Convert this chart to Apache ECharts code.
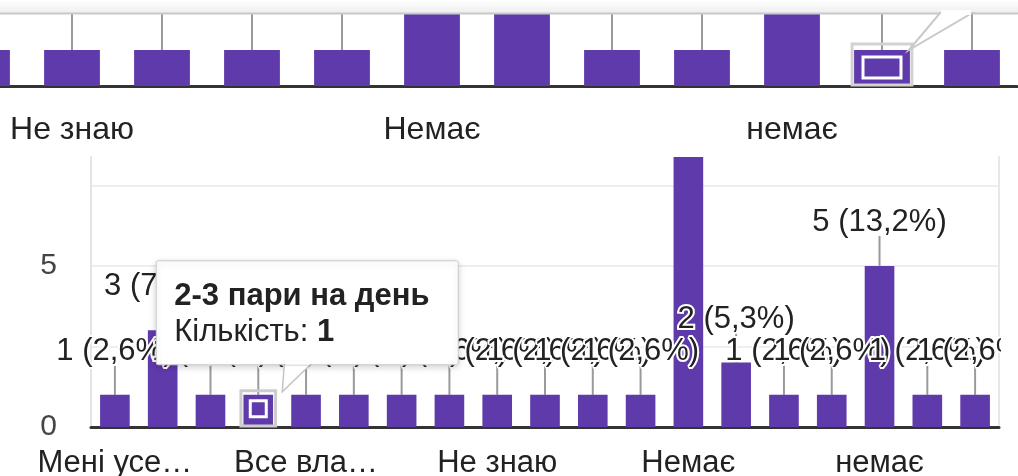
<!DOCTYPE html>
<html><head><meta charset="utf-8">
<script src="https://cdn.jsdelivr.net/npm/echarts@6/dist/echarts.min.js"></script>
<style>html,body{margin:0;padding:0;background:#fff}#c{width:1018px;height:476px}</style>
</head><body><div id="c"></div>
<script>
// ---- data ----
const categories = [
  'Мені усе…', 'Відповідь 2', 'Відповідь 3', '2-3 пари на день', 'Все вла…',
  'Відповідь 6', 'Відповідь 7', 'Відповідь 8', 'Не знаю', 'Відповідь 10',
  'Відповідь 11', 'Відповідь 12', 'Немає', 'Відповідь 14', 'Відповідь 15',
  'Відповідь 16', 'немає', 'Відповідь 18', 'Відповідь 19'
];
const counts = [1, 3, 1, 1, 1, 1, 1, 1, 1, 1, 1, 1, 13, 2, 1, 1, 5, 1, 1];
const mainTickStep = 2.5;           // grid step; labels only on multiples of 5
const mainLabelStep = 5;
const tooltipTitle = '2-3 пари на день';
const tooltipValueName = 'Кількість';
const selectedMain = 3;             // highlighted bar in main chart
const selectedZoom = 17;            // highlighted bar in zoomed strip

(function () {
const FONT = '"Liberation Sans", Arial, sans-serif';
const PURPLE = '#5f3aab';
const MAIN_MAX = 8.38;
const ZOOM_MAX = 2;
const total = counts.reduce((a, b) => a + b, 0);
const pct = v => v + ' (' + (v / total * 100).toFixed(1).replace('.', ',') + '%)';

const chart = echarts.init(document.getElementById('c'));

function stemSeries(xi, yi, len) {
  return {
    type: 'custom', xAxisIndex: xi, yAxisIndex: yi, z: 1, silent: true,
    data: counts.map((v, i) => [i, v]),
    encode: { x: 0, y: 1 },
    renderItem: function (params, api) {
      const p = api.coord([api.value(0), api.value(1)]);
      const gTop = params.coordSys.y;
      if (p[1] <= gTop + 1) return null;
      const y2 = Math.max(p[1] - len, gTop);
      return { type: 'line', shape: { x1: p[0], y1: p[1], x2: p[0], y2: y2 },
               style: { stroke: '#9a9a9a', lineWidth: 2 } };
    }
  };
}

chart.setOption({
  animation: false,
  textStyle: { fontFamily: FONT },
  grid: [
    { left: -693, top: 14, width: 1710, height: 72, outerBoundsMode: 'none', containLabel: false },
    { left: 91, top: 157, width: 908, height: 270, outerBoundsMode: 'none', containLabel: false }
  ],
  xAxis: [
    { gridIndex: 0, type: 'category', data: categories,
      axisTick: { show: false },
      axisLine: { lineStyle: { color: '#333', width: 3 } },
      axisLabel: { interval: 3, margin: 28, fontSize: 32, color: '#222', fontFamily: FONT } },
    { gridIndex: 1, type: 'category', data: categories,
      axisTick: { show: false },
      axisLine: { lineStyle: { color: '#333', width: 3 } },
      axisLabel: { interval: 3, margin: 21, fontSize: 31, color: '#222', fontFamily: FONT } }
  ],
  yAxis: [
    { gridIndex: 0, type: 'value', min: 0, max: ZOOM_MAX, show: false },
    { gridIndex: 1, type: 'value', min: 0, max: MAIN_MAX, interval: mainTickStep,
      axisLine: { show: true, lineStyle: { color: '#e4e4e4', width: 2 } },
      axisTick: { show: false },
      splitLine: { showMaxLine: false, showMinLine: false, lineStyle: { color: '#eeeeee', width: 2 } },
      axisLabel: { margin: 34, fontSize: 30, color: '#444', fontFamily: FONT,
        formatter: v => (v % mainLabelStep === 0 ? String(v) : '') } },
    { gridIndex: 1, type: 'value', min: 0, max: MAIN_MAX, position: 'right',
      axisLine: { show: true, lineStyle: { color: '#e8e8e8', width: 2 } },
      axisTick: { show: false }, axisLabel: { show: false }, splitLine: { show: false } }
  ],
  series: [
    stemSeries(0, 0, 1000),
    stemSeries(1, 1, 30),
    { type: 'bar', xAxisIndex: 0, yAxisIndex: 0, data: counts, barWidth: '62%',
      itemStyle: { color: PURPLE }, silent: true, z: 2 },
    { type: 'bar', xAxisIndex: 1, yAxisIndex: 1, barWidth: '62%', silent: true, z: 2,
      itemStyle: { color: PURPLE },
      data: counts.map(v => ({ value: v, label: { show: v <= MAIN_MAX } })),
      label: { show: true, position: 'top', distance: 28, fontSize: 31, color: '#222',
        fontFamily: FONT, textBorderColor: '#fff', textBorderWidth: 4,
        formatter: p => pct(p.value) } }
  ]
});

// ---- decorations tied to data positions ----
const band = chart.convertToPixel({ gridIndex: 1 }, [1, 0])[0] - chart.convertToPixel({ gridIndex: 1 }, [0, 0])[0];
const selPt = chart.convertToPixel({ gridIndex: 1 }, [selectedMain, counts[selectedMain]]);
const cx = selPt[0], ty = selPt[1];
const base = chart.convertToPixel({ gridIndex: 1 }, [selectedMain, 0])[1];
const bw = band * 0.62;

const band2 = chart.convertToPixel({ gridIndex: 0 }, [1, 0])[0] - chart.convertToPixel({ gridIndex: 0 }, [0, 0])[0];
const selPt2 = chart.convertToPixel({ gridIndex: 0 }, [selectedZoom, counts[selectedZoom]]);
const cx2 = selPt2[0], ty2 = selPt2[1];
const base2 = chart.convertToPixel({ gridIndex: 0 }, [selectedZoom, 0])[1];
const bw2 = band2 * 0.62;

const boxL = cx - 102, boxT = ty - 134, boxW = 302, boxH = 104;
const boxB = boxT + boxH;
const gridRight = 91 + 908;

chart.setOption({
  graphic: [
    { type: 'rect', z: 50, silent: true, shape: { x: 0, y: 0, width: 1018, height: 13 },
      style: { fill: new echarts.graphic.LinearGradient(0, 0, 0, 1, [{ offset: 0, color: '#ffffff' }, { offset: 1, color: '#eeeeee' }]) } },
    { type: 'line', z: 51, silent: true, shape: { x1: 0, y1: 13.5, x2: cx2 + 58, y2: 13.5 }, style: { stroke: '#c9c9c9', lineWidth: 2 } },
    { type: 'line', z: 51, silent: true, shape: { x1: cx2 + 90, y1: 13.5, x2: 1018, y2: 13.5 }, style: { stroke: '#c9c9c9', lineWidth: 2 } },
    { type: 'polygon', z: 51, silent: true,
      shape: { points: [[cx2 + 27, ty2], [cx2 + 58, 13], [cx2 + 90, 13]] },
      style: { fill: '#fff', stroke: '#c9c9c9', lineWidth: 2 } },
    { type: 'rect', z: 52, silent: true, shape: { x: cx2 + 59, y: 10, width: 30, height: 5 }, style: { fill: '#fff' } },
    { type: 'rect', z: 40, silent: true,
      shape: { x: cx2 - bw2 / 2 - 2, y: ty2 - 6, width: bw2 + 4, height: base2 - ty2 + 5 },
      style: { fill: 'none', stroke: '#d2d2d2', lineWidth: 3 } },
    { type: 'rect', z: 41, silent: true,
      shape: { x: cx2 - 19, y: ty2 + 7, width: 38, height: 21 },
      style: { fill: 'none', stroke: '#fff', lineWidth: 3 } },
    { type: 'rect', z: 40, silent: true,
      shape: { x: cx - bw / 2 - 2.5, y: ty - 4, width: bw + 5, height: base - ty + 3 },
      style: { fill: 'none', stroke: '#cccccc', lineWidth: 3 } },
    { type: 'rect', z: 41, silent: true,
      shape: { x: cx - 8, y: ty + 6, width: 16, height: 16 },
      style: { fill: 'none', stroke: '#fff', lineWidth: 3 } },
    // clip labels past the plot's right edge
    { type: 'rect', z: 45, silent: true,
      shape: { x: gridRight + 2, y: 150, width: 1018 - gridRight, height: 280 },
      style: { fill: '#fff' } },
    { type: 'rect', z: 60, silent: true,
      shape: { x: boxL, y: boxT, width: boxW, height: boxH, r: 2 },
      style: { fill: '#fff', stroke: '#cccccc', lineWidth: 1,
               shadowBlur: 6, shadowColor: 'rgba(0,0,0,0.18)', shadowOffsetY: 2 } },
    { type: 'polygon', z: 61, silent: true,
      shape: { points: [[cx + 24, ty - 3], [cx + 26, boxB], [cx + 52, boxB]] },
      style: { fill: '#fff', stroke: '#c4c4c4', lineWidth: 1.5 } },
    { type: 'rect', z: 62, silent: true, shape: { x: cx + 27, y: boxB - 3, width: 24, height: 3 }, style: { fill: '#fff' } },
    { type: 'text', z: 63, silent: true,
      style: { x: boxL + 18, y: ty - 98, text: tooltipTitle, fontFamily: FONT, fontSize: 31,
               fontWeight: 'bold', fill: '#222', verticalAlign: 'middle' } },
    { type: 'text', z: 63, silent: true,
      style: { x: boxL + 18, y: ty - 62, text: '{a|' + tooltipValueName + ': }{b|' + counts[selectedMain] + '}',
               verticalAlign: 'middle',
               rich: { a: { fontFamily: FONT, fontSize: 31, fill: '#222' },
                       b: { fontFamily: FONT, fontSize: 31, fontWeight: 'bold', fill: '#222' } } } }
  ]
});
})();
</script>
</body></html>
